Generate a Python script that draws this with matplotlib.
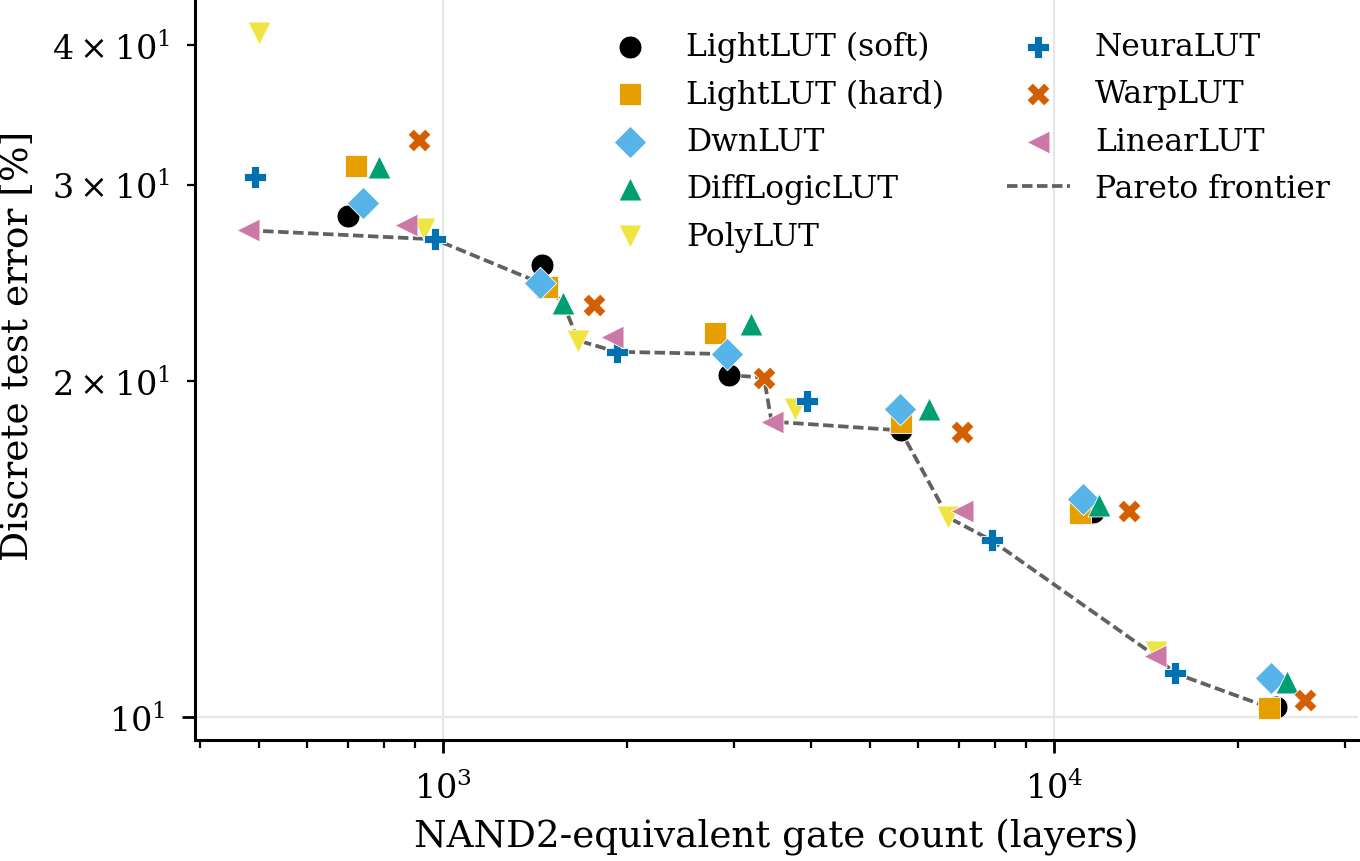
#!/usr/bin/env python

import numpy as np
from matplotlib import pyplot as plt

# gate count (x) and discrete test error in % (y)
soft_x = [700, 1454, 2942, 5610, 11590, 23100]
soft_y = [28.1, 25.4, 20.25, 18.07, 15.26, 10.22]

hard_x = [722, 1478, 2788, 5620, 11030, 22510]
hard_y = [31.2, 24.3, 22.1, 18.4, 15.24, 10.2]

dwn_x = [739, 1441, 2920, 5598, 11170, 22700]
dwn_y = [28.9, 24.5, 21.15, 18.9, 15.7, 10.85]

diff_x = [786, 1573, 3193, 6236, 11860, 24040]
diff_y = [31.1, 23.5, 22.5, 18.9, 15.5, 10.76]

poly_x = [500, 930, 1665, 3768, 6714, 14720]
poly_y = [41.0, 27.35, 21.75, 18.9, 15.1, 11.43]

neura_x = [493, 970, 1924, 3938, 7907, 15760]
neura_y = [30.5, 26.8, 21.25, 19.2, 14.4, 10.95]

warp_x = [913, 1766, 3353, 7080, 13250, 25750]
warp_y = [32.9, 23.4, 20.15, 18.0, 15.3, 10.36]

linear_x = [480, 869, 1889, 3451, 7063, 14650]
linear_y = [27.3, 27.6, 21.9, 18.4, 15.3, 11.35]

methods = [
    ("LightLUT (soft)", soft_x, soft_y, "o", "#000000"),
    ("LightLUT (hard)", hard_x, hard_y, "s", "#E69F00"),
    ("DwnLUT", dwn_x, dwn_y, "D", "#56B4E9"),
    ("DiffLogicLUT", diff_x, diff_y, "^", "#009E73"),
    ("PolyLUT", poly_x, poly_y, "v", "#F0E442"),
    ("NeuraLUT", neura_x, neura_y, "P", "#0072B2"),
    ("WarpLUT", warp_x, warp_y, "X", "#D55E00"),
    ("LinearLUT", linear_x, linear_y, "<", "#CC79A7"),
]


def pareto_frontier(xs, ys):
    order = np.argsort(xs)
    fx, fy = [], []
    best = np.inf
    for i in order:
        if ys[i] < best:
            best = ys[i]
            fx.append(xs[i])
            fy.append(ys[i])
    return fx, fy


def main():
    plt.rcParams["font.family"] = "DejaVu Serif"
    plt.rcParams["font.size"] = 12

    fig = plt.figure(figsize=(6.8, 4.31), dpi=200)
    ax = fig.add_axes([0.1434, 0.1398, 0.8551, 0.8602])

    all_x, all_y = [], []
    for label, xs, ys, marker, color in methods:
        ax.scatter(xs, ys, s=68, marker=marker, color=color, label=label,
                   edgecolors="white", linewidths=0.3, zorder=3)
        all_x += xs
        all_y += ys

    fx, fy = pareto_frontier(np.array(all_x), np.array(all_y))
    ax.plot(fx, fy, color="#616161", lw=1.35, ls=(0, (2.8, 1.2)), zorder=2,
            label="Pareto frontier")

    ax.set_xscale("log")
    ax.set_yscale("log")
    ax.set_xlim(393, 31450)
    ax.set_ylim(9.53, 44.0)

    ax.grid(True, which="major", color="#e6e6e6", lw=0.8)
    ax.set_axisbelow(True)
    for side in ["top", "right"]:
        ax.spines[side].set_visible(False)
    for side in ["left", "bottom"]:
        ax.spines[side].set_linewidth(1.1)
    ax.tick_params(which="major", length=4.8, width=1.0, pad=6, labelsize=12)
    ax.tick_params(which="minor", length=2.9, width=0.8, pad=6, labelsize=12)

    ax.set_xlabel("NAND2-equivalent gate count (layers)", fontsize=13.4, labelpad=4.5)
    ax.set_ylabel("Discrete test error [%]", fontsize=13.5)
    ax.yaxis.set_label_coords(-0.137, 0.533)

    ax.legend(loc="upper right", ncol=2, frameon=False, fontsize=11.3,
              labelspacing=0.52, columnspacing=2.0, bbox_to_anchor=(1.0, 0.995))

    fig.savefig("out.png", dpi=200)


if __name__ == "__main__":
    main()
